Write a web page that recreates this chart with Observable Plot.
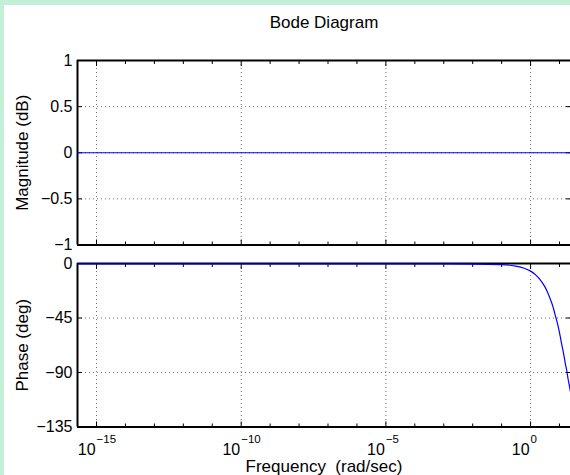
<!DOCTYPE html>
<html><head><meta charset="utf-8">
<script src="https://cdn.jsdelivr.net/npm/d3@7"></script>
<script src="https://cdn.jsdelivr.net/npm/@observablehq/plot@0.6"></script>
<style>
html,body{margin:0;padding:0;width:570px;height:475px;overflow:hidden;background:#c2efd6;font-family:"Liberation Sans",Arial,Helvetica,sans-serif;}
#fig{position:absolute;left:4px;top:5px;width:566px;height:470px;background:#fff;}
.panel{position:absolute;left:0;}
</style></head><body>
<div id="fig"></div>
<div id="mag" class="panel" style="top:0"></div>
<div id="phase" class="panel" style="top:255px"></div>
<script>
const title = "Bode Diagram";
const magLabel = "Magnitude (dB)";
const phaseLabel = "Phase (deg)";
const xLabel = "Frequency\u00a0 (rad/sec)";

// phase curve (rad/sec, degrees)
const freq = [2.2e-16, 1e-12, 1e-8, 1e-4, 1e-2, 0.1, 0.3, 0.6, 1, 1.5, 2, 3, 4, 5, 6, 7, 8, 10, 12, 14, 16, 18, 20, 22, 24];
const phaseDeg = [-0.4, -0.4, -0.4, -0.4, -0.5, -0.9, -2.1, -3.9, -6.3, -9.4, -12.4, -18.5, -24.5, -30.5, -36, -42, -47, -57, -67, -75, -83, -89, -96, -101, -106];
// magnitude (flat at 0 dB)
const magFreq = [2.2e-16, 24];
const magDb = [0, 0];

const magTicks = [-1, -0.5, 0, 0.5, 1];
const phaseTicks = [-135, -90, -45, 0];
const majorExp = [-15, -10, -5, 0];
const minorExp = [-14, -13, -12, -11, -9, -8, -7, -6, -4, -3, -2, -1, 1];

const majorX = majorExp.map(e => Math.pow(10, e));
const minorX = minorExp.map(e => Math.pow(10, e));
const xDomain = [freq[0], freq[freq.length - 1]];
const fmt = d => d < 0 ? "\u2212" + Math.abs(d) : String(d);
const FONT = '"Liberation Sans", Arial, Helvetica, sans-serif';
const gridStyle = {stroke: "#333", strokeDasharray: "1 3", strokeWidth: 1, strokeOpacity: 0.7};

function frameMarks(yTicks) {
  const yExt = d3.extent(yTicks);
  const inner = yTicks.filter(t => t !== yExt[0] && t !== yExt[1]);
  return [
    Plot.gridX(majorX, gridStyle),
    Plot.gridY(inner, gridStyle),
    Plot.axisX(majorX, {anchor: "bottom", tickSize: -5, tickFormat: () => "", label: null, strokeWidth: 1}),
    Plot.axisX(minorX, {anchor: "bottom", tickSize: -3, tickFormat: () => "", label: null, strokeWidth: 1}),
    Plot.axisX(majorX, {anchor: "top", tickSize: -5, tickFormat: () => "", label: null, strokeWidth: 1}),
    Plot.axisX(minorX, {anchor: "top", tickSize: -3, tickFormat: () => "", label: null, strokeWidth: 1}),
    Plot.axisY(yTicks, {anchor: "left", tickSize: 0, tickPadding: 5, tickFormat: fmt, label: null, fontSize: 16}),
    Plot.axisY(yTicks, {anchor: "left", tickSize: -5, tickFormat: () => "", label: null, strokeWidth: 1}),
    Plot.axisY(yTicks, {anchor: "right", tickSize: -5, tickFormat: () => "", label: null, strokeWidth: 1}),
    Plot.ruleY(yExt, {stroke: "#000", strokeWidth: 2}),
    Plot.ruleX([xDomain[0]], {stroke: "#000", strokeWidth: 2})
  ];
}

const magPlot = Plot.plot({
  width: 570, height: 255,
  marginTop: 60, marginBottom: 10.5, marginLeft: 77, marginRight: 0,
  style: {background: "transparent", fontFamily: FONT, overflow: "visible", color: "#000"},
  x: {type: "log", domain: xDomain},
  y: {domain: d3.extent(magTicks)},
  marks: [
    ...frameMarks(magTicks),
    Plot.line(magFreq.map((f, i) => ({f, v: magDb[i]})), {x: "f", y: "v", stroke: "#0000ff", strokeWidth: 1.2}),
    Plot.text([title], {frameAnchor: "top", dy: -33, lineAnchor: "bottom", fontSize: 17, fill: "#000"}),
    Plot.text([magLabel], {frameAnchor: "left", dx: -55, rotate: -90, lineAnchor: "middle", textAnchor: "middle", fontSize: 17, fill: "#000"})
  ]
});
document.getElementById("mag").appendChild(magPlot);

const phasePlot = Plot.plot({
  width: 570, height: 220,
  marginTop: 8, marginBottom: 48.5, marginLeft: 77, marginRight: 0,
  style: {background: "transparent", fontFamily: FONT, overflow: "visible", color: "#000"},
  x: {type: "log", domain: xDomain},
  y: {domain: d3.extent(phaseTicks)},
  marks: [
    ...frameMarks(phaseTicks),
    Plot.line(freq.map((f, i) => ({f, v: phaseDeg[i]})), {x: "f", y: "v", stroke: "#0000ff", strokeWidth: 1.2, curve: "monotone-x"}),
    Plot.text(majorExp, {x: e => Math.pow(10, e), frameAnchor: "bottom", text: () => "10", textAnchor: "end", dx: -1, dy: 27.5, lineAnchor: "bottom", fontSize: 16, fill: "#000"}),
    Plot.text(majorExp, {x: e => Math.pow(10, e), frameAnchor: "bottom", text: e => fmt(e), textAnchor: "start", dx: 0, dy: 16, lineAnchor: "bottom", fontSize: 11.5, fill: "#000"}),
    Plot.text([xLabel], {frameAnchor: "bottom", dy: 45, lineAnchor: "bottom", fontSize: 17, fill: "#000"}),
    Plot.text([phaseLabel], {frameAnchor: "left", dx: -55, rotate: -90, lineAnchor: "middle", textAnchor: "middle", fontSize: 17, fill: "#000"})
  ]
});
document.getElementById("phase").appendChild(phasePlot);
</script>
</body></html>
